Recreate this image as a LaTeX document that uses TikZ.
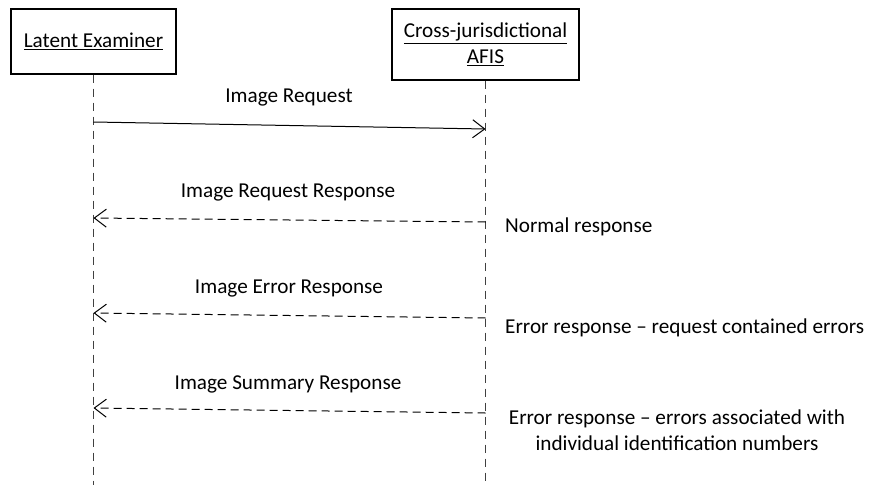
\documentclass[tikz,border=0pt]{standalone}
\usepackage{fontspec}
\setmainfont{Carlito}
\usetikzlibrary{arrows.meta}
\begin{document}
\begin{tikzpicture}[x=1pt,y=-1pt,
  every node/.style={font=\fontsize{21.2}{26}\selectfont, inner sep=0pt},
  actor/.style={draw=black, line width=1.2pt, fill=white, align=center},
  lifeline/.style={draw=black!75, line width=1.1pt, dash pattern=on 8pt off 6pt},
  msg/.style={draw=black, line width=1pt, -{Straight Barb[length=12pt,width=18pt,line width=1pt]}},
  reply/.style={msg, dash pattern=on 8pt off 5pt},
  lbl/.style={anchor=center},
  note/.style={anchor=west, align=left}]
\useasboundingbox (0,0) rectangle (870,485);
\fill[white] (0,0) rectangle (870,485);
% actors
\node[actor, minimum width=165pt, minimum height=65pt] (le) at (93.5,41.5) {\underline{Latent Examiner}};
\node[actor, minimum width=187pt, minimum height=71pt] (af) at (485.5,44.5) {\underline{Cross-jurisdictional}\\\underline{AFIS}};
% lifeline ends
\coordinate (leb) at (93.5,485);
\coordinate (afb) at (485.5,485);
\draw[lifeline] (le.south) -- (leb);
\draw[lifeline] (af.south) -- (afb);
% message points
\coordinate (m1s) at (93.5,122);
\coordinate (m1e) at (485.5,129);
\coordinate (m2s) at (485.5,222);
\coordinate (m2e) at (93.5,218);
\coordinate (m3s) at (485.5,318);
\coordinate (m3e) at (93.5,313);
\coordinate (m4s) at (485.5,413);
\coordinate (m4e) at (93.5,408);
\draw[msg] (m1s) -- (m1e);
\draw[reply] (m2s) -- (m2e);
\draw[reply] (m3s) -- (m3e);
\draw[reply] (m4s) -- (m4e);
% labels
\node[lbl] (l1) at (289,98) {Image Request};
\node[lbl] (l2) at (288,193) {Image Request Response};
\node[lbl] (l3) at (289,289) {Image Error Response};
\node[lbl] (l4) at (288,384) {Image Summary Response};
% notes
\node[note] (n1) at (505,227) {Normal response};
\node[note] (n2) at (505,328) {Error response – request contained errors};
\node[align=center] (n3) at (677,430) {Error response – errors associated with\\individual identification numbers};
\end{tikzpicture}
\end{document}
